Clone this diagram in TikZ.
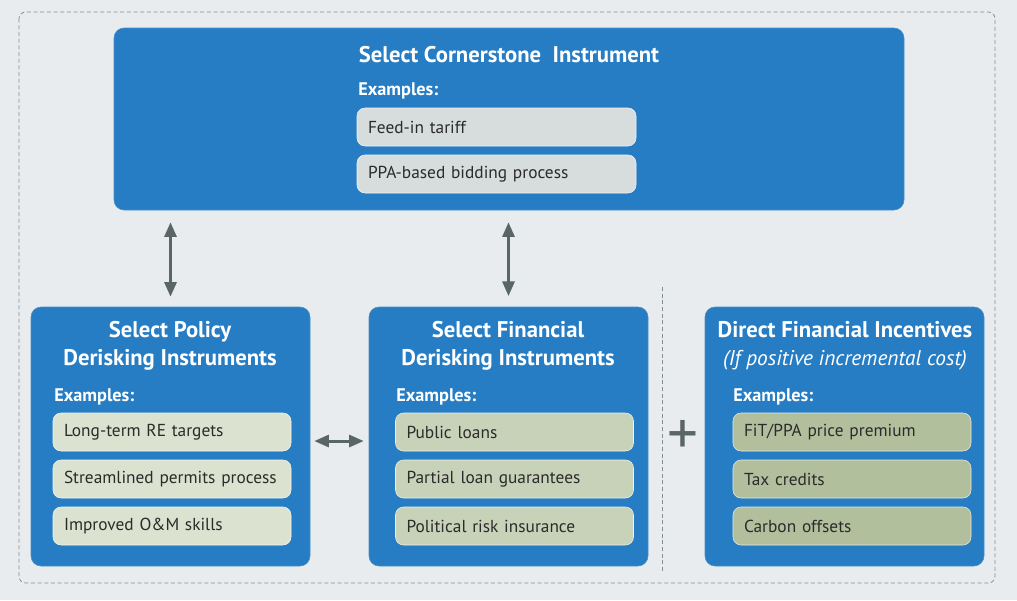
\documentclass[tikz,border=0pt]{standalone}
\usepackage{fontspec}
\setmainfont{PT Sans}
\usetikzlibrary{arrows.meta}
\definecolor{bggrey}{HTML}{E8ECEE}
\definecolor{boxblue}{HTML}{267DC3}
\definecolor{pilltop}{HTML}{D7DCDC}
\definecolor{pillleft}{HTML}{DCE2D0}
\definecolor{pillmid}{HTML}{C8D2B8}
\definecolor{pillright}{HTML}{B1BF9C}
\definecolor{arrowgrey}{HTML}{5A6666}
\definecolor{dashgrey}{HTML}{858D8F}
\definecolor{txtdark}{HTML}{2B2B2B}

\begin{document}
\begin{tikzpicture}[x=0.75pt,y=-0.75pt,
    bluebox/.style={fill=boxblue,draw=boxblue!85!white,rounded corners=7.5pt,inner sep=0pt,
        minimum width=209.25pt,minimum height=194.25pt},
    pill/.style={draw=white!70!#1,fill=#1,rounded corners=6pt,inner xsep=8.25pt,inner ysep=0pt,
        text width=162pt,align=left,minimum height=28.5pt,text=txtdark,font=\fontsize{13}{15}\selectfont},
    boxtitle/.style={text=white,align=center,inner sep=0pt,font=\bfseries\fontsize{17}{21}\selectfont},
    exlabel/.style={text=white,anchor=west,inner sep=0pt,font=\bfseries\fontsize{13.7}{15}\selectfont},
    dblarrow/.style={{Triangle[width=9pt,length=11pt]}-{Triangle[width=9pt,length=11pt]},
        line width=2.2pt,color=arrowgrey},
    sepdash/.style={dashgrey,line width=0.6pt,dash pattern=on 3pt off 2pt}]

% background and frame
\fill[bggrey] (0,0) rectangle (1017,600);
\draw[sepdash,rounded corners=5pt] (19,12) rectangle (995,583);
\draw[sepdash] (662,287) -- (662,571);

% cornerstone box
\node[bluebox,minimum width=592.5pt,minimum height=136.5pt] (top) at (509,119) {};
\node[boxtitle] (toptitle) at (509,55) {Select Cornerstone\ \ Instrument};
\node[exlabel] (topex) at (358,91) {Examples:};
\node[pill=pilltop,text width=192.75pt] (feed) at (496.5,127) {Feed-in tariff};
\node[pill=pilltop,text width=192.75pt] (ppa) at (496.5,174) {PPA-based bidding process};

% policy derisking
\node[bluebox] (policy) at (170.5,436.5) {};
\node[boxtitle] (policytitle) at (170,346) {Select Policy\\Derisking Instruments};
\node[exlabel] (policyex) at (54,397) {Examples:};
\node[pill=pillleft] (target) at (172,432) {Long-term RE targets};
\node[pill=pillleft] (permit) at (172,479) {Streamlined permits process};
\node[pill=pillleft] (skill) at (172,526) {Improved O\&M skills};

% financial derisking
\node[bluebox] (financial) at (508.5,436.5) {};
\node[boxtitle] (fintitle) at (508,346) {Select Financial\\Derisking Instruments};
\node[exlabel] (finex) at (396,397) {Examples:};
\node[pill=pillmid] (loan) at (514.5,432) {Public loans};
\node[pill=pillmid] (guarantee) at (514.5,479) {Partial loan guarantees};
\node[pill=pillmid] (insurance) at (514.5,526) {Political risk insurance};

% direct incentives
\node[bluebox] (direct) at (844.5,436.5) {};
\node[boxtitle] (dirtitle) at (845,346) {Direct Financial Incentives\\\mdseries\itshape\fontsize{16}{21}\selectfont (If positive incremental cost)};
\node[exlabel] (direx) at (733,397) {Examples:};
\node[pill=pillright] (premium) at (852,432) {FiT/PPA price premium};
\node[pill=pillright] (tax) at (852,479) {Tax credits};
\node[pill=pillright] (carbon) at (852,526) {Carbon offsets};

\node[text=arrowgrey,inner sep=0pt,font=\fontsize{46}{46}\selectfont] (plus) at (683,437) {+};

% arrows
\draw[dblarrow,shorten <=9pt,shorten >=7.5pt] (top.south -| policy.north) -- (policy.north);
\draw[dblarrow,shorten <=9pt,shorten >=8pt] (top.south -| financial.north) -- (financial.north);
\draw[dblarrow,shorten <=3pt,shorten >=3.75pt] ([yshift=-3.4pt]policy.east) -- ([yshift=-3.4pt]financial.west);
\end{tikzpicture}
\end{document}
